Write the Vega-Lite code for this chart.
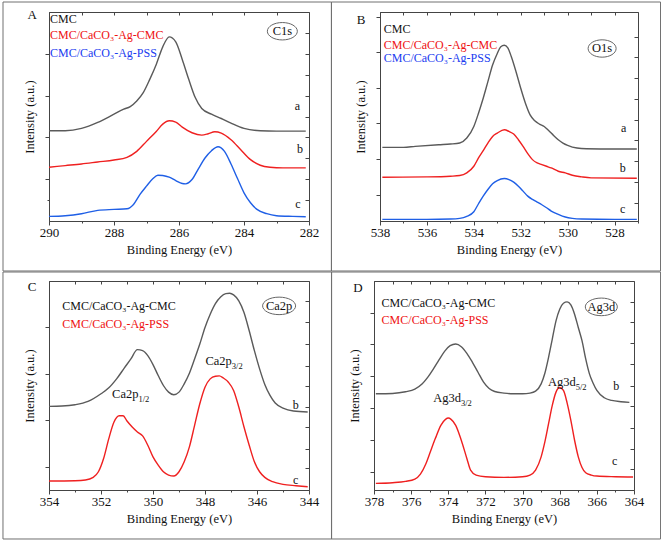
{
"$schema": "https://vega.github.io/schema/vega-lite/v6.json",
"background": "white",
"padding": {"left": 1, "top": 1, "right": 1, "bottom": 1},
"autosize": {"type": "pad"},
"bounds": "full",
"spacing": -1,
"config": {
 "font": "Liberation Serif",
 "view": {"stroke": "#444", "strokeWidth": 1},
 "axis": {"grid": false, "labelFont": "Liberation Serif", "titleFont": "Liberation Serif", "labelFontSize": 13, "titleFontSize": 12.5, "titleFontWeight": "normal", "labelColor": "#111", "titleColor": "#111", "domainColor": "#444", "tickColor": "#444", "minExtent": 0, "labelFlush": false, "labelOverlap": false},
 "text": {"font": "Liberation Serif", "fontSize": 12},
 "line": {"strokeWidth": 1.4, "interpolate": "monotone"}
},
"datasets": {
 "A": [
  {"s":"a","E":290,"I":272},{"s":"a","E":289.5,"I":272},{"s":"a","E":289,"I":279},{"s":"a","E":288.5,"I":297},{"s":"a","E":288,"I":322},{"s":"a","E":287.7,"I":337},{"s":"a","E":287.5,"I":345},{"s":"a","E":287.3,"I":362},{"s":"a","E":287.1,"I":387},{"s":"a","E":286.9,"I":427},{"s":"a","E":286.7,"I":472},{"s":"a","E":286.5,"I":525},{"s":"a","E":286.3,"I":555},{"s":"a","E":286.1,"I":540},{"s":"a","E":285.9,"I":487},{"s":"a","E":285.7,"I":427},{"s":"a","E":285.5,"I":372},{"s":"a","E":285.3,"I":339},{"s":"a","E":285,"I":322},{"s":"a","E":284.7,"I":309},{"s":"a","E":284.4,"I":295},{"s":"a","E":284,"I":279},{"s":"a","E":283.5,"I":272},{"s":"a","E":283,"I":271},{"s":"a","E":282.1,"I":271},
  {"s":"b","E":290,"I":162},{"s":"b","E":289.5,"I":167},{"s":"b","E":289,"I":172},{"s":"b","E":288.5,"I":178},{"s":"b","E":288,"I":184},{"s":"b","E":287.6,"I":192},{"s":"b","E":287.3,"I":210},{"s":"b","E":287,"I":240},{"s":"b","E":286.7,"I":270},{"s":"b","E":286.5,"I":292},{"s":"b","E":286.3,"I":302},{"s":"b","E":286.1,"I":298},{"s":"b","E":285.9,"I":283},{"s":"b","E":285.6,"I":266},{"s":"b","E":285.3,"I":259},{"s":"b","E":285.1,"I":263},{"s":"b","E":284.9,"I":269},{"s":"b","E":284.7,"I":265},{"s":"b","E":284.4,"I":245},{"s":"b","E":284.1,"I":215},{"s":"b","E":283.8,"I":185},{"s":"b","E":283.5,"I":168},{"s":"b","E":283.2,"I":162},{"s":"b","E":282.8,"I":160},{"s":"b","E":282.1,"I":160},
  {"s":"c","E":290,"I":14},{"s":"c","E":289.5,"I":16},{"s":"c","E":289,"I":22},{"s":"c","E":288.5,"I":32},{"s":"c","E":288,"I":35},{"s":"c","E":287.6,"I":37},{"s":"c","E":287.4,"I":50},{"s":"c","E":287.2,"I":80},{"s":"c","E":287,"I":105},{"s":"c","E":286.8,"I":128},{"s":"c","E":286.65,"I":138},{"s":"c","E":286.5,"I":137},{"s":"c","E":286.3,"I":132},{"s":"c","E":286.1,"I":122},{"s":"c","E":285.9,"I":113},{"s":"c","E":285.8,"I":112},{"s":"c","E":285.6,"I":125},{"s":"c","E":285.4,"I":158},{"s":"c","E":285.2,"I":190},{"s":"c","E":285,"I":212},{"s":"c","E":284.8,"I":224},{"s":"c","E":284.6,"I":210},{"s":"c","E":284.4,"I":172},{"s":"c","E":284.2,"I":128},{"s":"c","E":284,"I":85},{"s":"c","E":283.8,"I":55},{"s":"c","E":283.6,"I":35},{"s":"c","E":283.3,"I":22},{"s":"c","E":283,"I":16},{"s":"c","E":282.5,"I":14},{"s":"c","E":282.1,"I":13}
 ],
 "B": [
  {"s":"a","E":537.9,"I":222},{"s":"a","E":537,"I":222},{"s":"a","E":536.5,"I":225},{"s":"a","E":535.5,"I":230},{"s":"a","E":535,"I":232},{"s":"a","E":534.6,"I":235},{"s":"a","E":534.3,"I":250},{"s":"a","E":534,"I":285},{"s":"a","E":533.8,"I":325},{"s":"a","E":533.6,"I":370},{"s":"a","E":533.4,"I":420},{"s":"a","E":533.2,"I":470},{"s":"a","E":533,"I":505},{"s":"a","E":532.85,"I":525},{"s":"a","E":532.7,"I":530},{"s":"a","E":532.55,"I":522},{"s":"a","E":532.4,"I":495},{"s":"a","E":532.2,"I":450},{"s":"a","E":532,"I":400},{"s":"a","E":531.8,"I":355},{"s":"a","E":531.6,"I":320},{"s":"a","E":531.4,"I":302},{"s":"a","E":531.2,"I":292},{"s":"a","E":531,"I":285},{"s":"a","E":530.8,"I":272},{"s":"a","E":530.6,"I":258},{"s":"a","E":530.4,"I":245},{"s":"a","E":530.2,"I":235},{"s":"a","E":530,"I":228},{"s":"a","E":529.6,"I":220},{"s":"a","E":529.2,"I":218},{"s":"a","E":528,"I":217},{"s":"a","E":527.05,"I":217},
  {"s":"b","E":537.9,"I":132},{"s":"b","E":536,"I":133},{"s":"b","E":535,"I":135},{"s":"b","E":534.6,"I":137},{"s":"b","E":534.3,"I":145},{"s":"b","E":534,"I":165},{"s":"b","E":533.8,"I":190},{"s":"b","E":533.6,"I":212},{"s":"b","E":533.4,"I":235},{"s":"b","E":533.2,"I":255},{"s":"b","E":533,"I":265},{"s":"b","E":532.7,"I":275},{"s":"b","E":532.5,"I":270},{"s":"b","E":532.3,"I":262},{"s":"b","E":532.1,"I":245},{"s":"b","E":531.9,"I":225},{"s":"b","E":531.7,"I":203},{"s":"b","E":531.5,"I":185},{"s":"b","E":531.3,"I":175},{"s":"b","E":531.1,"I":170},{"s":"b","E":530.9,"I":165},{"s":"b","E":530.7,"I":160},{"s":"b","E":530.4,"I":150},{"s":"b","E":530.1,"I":145},{"s":"b","E":529.8,"I":138},{"s":"b","E":529.4,"I":133},{"s":"b","E":529,"I":130},{"s":"b","E":527.05,"I":129},
  {"s":"c","E":537.9,"I":5},{"s":"c","E":536,"I":5},{"s":"c","E":535,"I":6},{"s":"c","E":534.6,"I":8},{"s":"c","E":534.3,"I":14},{"s":"c","E":534,"I":28},{"s":"c","E":533.8,"I":52},{"s":"c","E":533.6,"I":75},{"s":"c","E":533.4,"I":95},{"s":"c","E":533.2,"I":112},{"s":"c","E":533,"I":122},{"s":"c","E":532.7,"I":128},{"s":"c","E":532.5,"I":125},{"s":"c","E":532.3,"I":117},{"s":"c","E":532.1,"I":105},{"s":"c","E":531.9,"I":90},{"s":"c","E":531.7,"I":75},{"s":"c","E":531.5,"I":65},{"s":"c","E":531.3,"I":57},{"s":"c","E":531.1,"I":49},{"s":"c","E":530.9,"I":40},{"s":"c","E":530.7,"I":30},{"s":"c","E":530.4,"I":20},{"s":"c","E":530.1,"I":12},{"s":"c","E":529.8,"I":8},{"s":"c","E":529.4,"I":6},{"s":"c","E":528,"I":5},{"s":"c","E":527.05,"I":5}
 ],
 "C": [
  {"s":"b","E":354,"I":252},{"s":"b","E":353.5,"I":253},{"s":"b","E":353,"I":257},{"s":"b","E":352.5,"I":267},{"s":"b","E":352,"I":290},{"s":"b","E":351.7,"I":308},{"s":"b","E":351.4,"I":335},{"s":"b","E":351.1,"I":368},{"s":"b","E":350.85,"I":395},{"s":"b","E":350.6,"I":423},{"s":"b","E":350.4,"I":420},{"s":"b","E":350.2,"I":405},{"s":"b","E":350,"I":378},{"s":"b","E":349.8,"I":345},{"s":"b","E":349.6,"I":315},{"s":"b","E":349.4,"I":295},{"s":"b","E":349.2,"I":287},{"s":"b","E":349,"I":295},{"s":"b","E":348.8,"I":320},{"s":"b","E":348.6,"I":352},{"s":"b","E":348.4,"I":395},{"s":"b","E":348.2,"I":440},{"s":"b","E":348,"I":490},{"s":"b","E":347.8,"I":530},{"s":"b","E":347.6,"I":562},{"s":"b","E":347.4,"I":582},{"s":"b","E":347.2,"I":592},{"s":"b","E":347.05,"I":593},{"s":"b","E":346.9,"I":588},{"s":"b","E":346.7,"I":570},{"s":"b","E":346.5,"I":535},{"s":"b","E":346.3,"I":480},{"s":"b","E":346.1,"I":420},{"s":"b","E":345.9,"I":365},{"s":"b","E":345.7,"I":318},{"s":"b","E":345.5,"I":285},{"s":"b","E":345.3,"I":262},{"s":"b","E":345,"I":247},{"s":"b","E":344.6,"I":238},{"s":"b","E":344.05,"I":235},
  {"s":"c","E":354,"I":27},{"s":"c","E":353,"I":28},{"s":"c","E":352.6,"I":30},{"s":"c","E":352.3,"I":38},{"s":"c","E":352.1,"I":55},{"s":"c","E":351.9,"I":95},{"s":"c","E":351.7,"I":155},{"s":"c","E":351.5,"I":205},{"s":"c","E":351.3,"I":224},{"s":"c","E":351.15,"I":224},{"s":"c","E":351,"I":208},{"s":"c","E":350.8,"I":190},{"s":"c","E":350.6,"I":175},{"s":"c","E":350.4,"I":163},{"s":"c","E":350.2,"I":135},{"s":"c","E":350,"I":100},{"s":"c","E":349.8,"I":75},{"s":"c","E":349.6,"I":55},{"s":"c","E":349.4,"I":45},{"s":"c","E":349.2,"I":42},{"s":"c","E":349,"I":55},{"s":"c","E":348.8,"I":85},{"s":"c","E":348.6,"I":130},{"s":"c","E":348.4,"I":195},{"s":"c","E":348.2,"I":260},{"s":"c","E":348,"I":310},{"s":"c","E":347.8,"I":335},{"s":"c","E":347.6,"I":343},{"s":"c","E":347.45,"I":344},{"s":"c","E":347.3,"I":338},{"s":"c","E":347.1,"I":325},{"s":"c","E":346.9,"I":300},{"s":"c","E":346.7,"I":250},{"s":"c","E":346.5,"I":190},{"s":"c","E":346.3,"I":135},{"s":"c","E":346.1,"I":85},{"s":"c","E":345.9,"I":55},{"s":"c","E":345.7,"I":38},{"s":"c","E":345.4,"I":25},{"s":"c","E":345,"I":17},{"s":"c","E":344.5,"I":13},{"s":"c","E":344.05,"I":10}
 ],
 "D": [
  {"s":"b","E":377.9,"I":290},{"s":"b","E":377,"I":291},{"s":"b","E":376.3,"I":296},{"s":"b","E":375.8,"I":304},{"s":"b","E":375.4,"I":320},{"s":"b","E":375.1,"I":340},{"s":"b","E":374.8,"I":365},{"s":"b","E":374.5,"I":392},{"s":"b","E":374.2,"I":418},{"s":"b","E":373.9,"I":435},{"s":"b","E":373.6,"I":440},{"s":"b","E":373.3,"I":432},{"s":"b","E":373,"I":412},{"s":"b","E":372.7,"I":385},{"s":"b","E":372.4,"I":355},{"s":"b","E":372.1,"I":325},{"s":"b","E":371.8,"I":306},{"s":"b","E":371.5,"I":297},{"s":"b","E":371,"I":292},{"s":"b","E":370.5,"I":290},{"s":"b","E":370,"I":290},{"s":"b","E":369.6,"I":292},{"s":"b","E":369.3,"I":298},{"s":"b","E":369,"I":320},{"s":"b","E":368.8,"I":352},{"s":"b","E":368.6,"I":400},{"s":"b","E":368.4,"I":455},{"s":"b","E":368.2,"I":510},{"s":"b","E":368,"I":545},{"s":"b","E":367.8,"I":563},{"s":"b","E":367.6,"I":567},{"s":"b","E":367.4,"I":558},{"s":"b","E":367.2,"I":530},{"s":"b","E":367,"I":490},{"s":"b","E":366.8,"I":450},{"s":"b","E":366.6,"I":395},{"s":"b","E":366.4,"I":350},{"s":"b","E":366.2,"I":322},{"s":"b","E":366,"I":300},{"s":"b","E":365.6,"I":278},{"s":"b","E":365.2,"I":270},{"s":"b","E":364.7,"I":266},{"s":"b","E":364.25,"I":264},
  {"s":"c","E":377.9,"I":20},{"s":"c","E":377,"I":22},{"s":"c","E":376.3,"I":26},{"s":"c","E":375.8,"I":33},{"s":"c","E":375.5,"I":48},{"s":"c","E":375.2,"I":80},{"s":"c","E":375,"I":110},{"s":"c","E":374.7,"I":155},{"s":"c","E":374.4,"I":195},{"s":"c","E":374.15,"I":213},{"s":"c","E":374,"I":217},{"s":"c","E":373.85,"I":213},{"s":"c","E":373.6,"I":195},{"s":"c","E":373.3,"I":150},{"s":"c","E":373,"I":95},{"s":"c","E":372.8,"I":60},{"s":"c","E":372.5,"I":45},{"s":"c","E":372,"I":40},{"s":"c","E":371,"I":38},{"s":"c","E":370,"I":40},{"s":"c","E":369.6,"I":45},{"s":"c","E":369.3,"I":60},{"s":"c","E":369,"I":100},{"s":"c","E":368.8,"I":145},{"s":"c","E":368.6,"I":200},{"s":"c","E":368.4,"I":255},{"s":"c","E":368.2,"I":295},{"s":"c","E":368,"I":309},{"s":"c","E":367.8,"I":300},{"s":"c","E":367.6,"I":262},{"s":"c","E":367.4,"I":210},{"s":"c","E":367.2,"I":150},{"s":"c","E":367,"I":100},{"s":"c","E":366.8,"I":68},{"s":"c","E":366.6,"I":52},{"s":"c","E":366.3,"I":45},{"s":"c","E":366,"I":42},{"s":"c","E":365,"I":40},{"s":"c","E":364.05,"I":39}
 ]
},
"vconcat": [
 {"hconcat": [
  {"width": 260, "height": 209,
   "resolve": {"axis": {"x": "independent", "y": "independent"}},
   "layer": [
    {"data": {"values": [{}]}, "mark": {"type": "rect", "fill": "#fff", "fillOpacity": 0, "stroke": "#707070", "strokeWidth": 1},
     "encoding": {"x": {"datum": 291.415, "type": "quantitative", "scale": {"domain": [282, 290], "reverse": true, "nice": false, "zero": false}, "axis": {"orient": "top", "values": [282,283,284,285,286,287,288,289,290], "labels": false, "domain": false, "tickSize": -3, "title": null}}, "x2": {"datum": 281.31},
      "y": {"datum": 660.1, "type": "quantitative", "scale": {"domain": [0, 630], "nice": false, "zero": false}, "axis": {"orient": "right", "values": [63,126,189,252,315,378,441,504,567], "labels": false, "domain": false, "tickSize": -4, "title": null}}, "y2": {"datum": -150.7}}},
    {"data": {"name": "A"}, "mark": {"type": "line"},
     "encoding": {"x": {"field": "E", "type": "quantitative", "scale": {"domain": [282, 290], "reverse": true, "nice": false, "zero": false}, "axis": {"orient": "bottom", "values": [282,283,284,285,286,287,288,289,290], "labelExpr": "datum.value % 2 === 0 ? datum.label : ''", "tickSize": {"condition": {"test": "datum.value % 2 === 0", "value": 4}, "value": 2}, "labelPadding": 1, "title": "Binding Energy (eV)", "titlePadding": 4}},
      "y": {"field": "I", "type": "quantitative", "scale": {"domain": [0, 630], "nice": false, "zero": false}, "axis": {"orient": "left", "values": [63,126,252,378,504], "labels": false, "tickSize": {"condition": {"test": "datum.value % 126 === 0", "value": 4}, "value": 2}, "title": "Intensity (a.u.)", "titlePadding": 8}},
      "detail": {"field": "s"},
      "color": {"condition": [{"test": "datum.s === 'a'", "value": "#5a5a5a"}, {"test": "datum.s === 'b'", "value": "#ef2020"}], "value": "#1f5fe6"}}},
    {"data": {"values": [{}]}, "mark": {"type": "text", "text": "A", "fontSize": 13, "align": "center", "baseline": "middle", "color": "#111"},
     "encoding": {"x": {"datum": 290.52, "type": "quantitative", "scale": {"domain": [282, 290], "reverse": true, "nice": false, "zero": false}, "axis": null}, "y": {"datum": 621, "type": "quantitative", "scale": {"domain": [0, 630], "nice": false, "zero": false}, "axis": null}}},
    {"data": {"values": [{}]}, "mark": {"type": "text", "text": "CMC", "align": "left", "baseline": "middle", "color": "#111"},
     "encoding": {"x": {"datum": 289.97, "type": "quantitative", "scale": {"domain": [282, 290], "reverse": true, "nice": false, "zero": false}, "axis": null}, "y": {"datum": 610, "type": "quantitative", "scale": {"domain": [0, 630], "nice": false, "zero": false}, "axis": null}}},
    {"data": {"values": [{}]}, "mark": {"type": "text", "text": "CMC/CaCO₃-Ag-CMC", "align": "left", "baseline": "middle", "color": "#ee1111"},
     "encoding": {"x": {"datum": 289.97, "type": "quantitative", "scale": {"domain": [282, 290], "reverse": true, "nice": false, "zero": false}, "axis": null}, "y": {"datum": 560, "type": "quantitative", "scale": {"domain": [0, 630], "nice": false, "zero": false}, "axis": null}}},
    {"data": {"values": [{}]}, "mark": {"type": "text", "text": "CMC/CaCO₃-Ag-PSS", "align": "left", "baseline": "middle", "color": "#1a3cf0"},
     "encoding": {"x": {"datum": 289.97, "type": "quantitative", "scale": {"domain": [282, 290], "reverse": true, "nice": false, "zero": false}, "axis": null}, "y": {"datum": 505, "type": "quantitative", "scale": {"domain": [0, 630], "nice": false, "zero": false}, "axis": null}}},
    {"data": {"values": [{}]}, "mark": {"type": "point", "shape": "M-1,0A1,0.58 0 1,1 1,0A1,0.58 0 1,1 -1,0Z", "size": 900, "filled": false, "stroke": "#666", "strokeWidth": 1, "opacity": 1},
     "encoding": {"x": {"datum": 282.82, "type": "quantitative", "scale": {"domain": [282, 290], "reverse": true, "nice": false, "zero": false}, "axis": null}, "y": {"datum": 572, "type": "quantitative", "scale": {"domain": [0, 630], "nice": false, "zero": false}, "axis": null}}},
    {"data": {"values": [{}]}, "mark": {"type": "text", "text": "C1s", "fontSize": 12.5, "align": "center", "baseline": "middle", "color": "#111"},
     "encoding": {"x": {"datum": 282.82, "type": "quantitative", "scale": {"domain": [282, 290], "reverse": true, "nice": false, "zero": false}, "axis": null}, "y": {"datum": 572, "type": "quantitative", "scale": {"domain": [0, 630], "nice": false, "zero": false}, "axis": null}}},
    {"data": {"values": [{}]}, "mark": {"type": "text", "text": "a", "align": "center", "baseline": "middle", "color": "#111"},
     "encoding": {"x": {"datum": 282.36, "type": "quantitative", "scale": {"domain": [282, 290], "reverse": true, "nice": false, "zero": false}, "axis": null}, "y": {"datum": 347, "type": "quantitative", "scale": {"domain": [0, 630], "nice": false, "zero": false}, "axis": null}}},
    {"data": {"values": [{}]}, "mark": {"type": "text", "text": "b", "align": "center", "baseline": "middle", "color": "#111"},
     "encoding": {"x": {"datum": 282.28, "type": "quantitative", "scale": {"domain": [282, 290], "reverse": true, "nice": false, "zero": false}, "axis": null}, "y": {"datum": 217, "type": "quantitative", "scale": {"domain": [0, 630], "nice": false, "zero": false}, "axis": null}}},
    {"data": {"values": [{}]}, "mark": {"type": "text", "text": "c", "align": "center", "baseline": "middle", "color": "#111"},
     "encoding": {"x": {"datum": 282.34, "type": "quantitative", "scale": {"domain": [282, 290], "reverse": true, "nice": false, "zero": false}, "axis": null}, "y": {"datum": 50, "type": "quantitative", "scale": {"domain": [0, 630], "nice": false, "zero": false}, "axis": null}}}
   ]},
  {"width": 258, "height": 209,
   "resolve": {"axis": {"x": "independent", "y": "independent"}},
   "layer": [
    {"data": {"values": [{}]}, "mark": {"type": "rect", "fill": "#fff", "fillOpacity": 0, "stroke": "#707070", "strokeWidth": 1},
     "encoding": {"x": {"datum": 540.07, "type": "quantitative", "scale": {"domain": [527, 538], "reverse": true, "nice": false, "zero": false}, "axis": {"orient": "top", "values": [527,528,529,530,531,532,533,534,535,536,537,538], "labels": false, "domain": false, "tickSize": -3, "title": null}}, "x2": {"datum": 526.04},
      "y": {"datum": 660.1, "type": "quantitative", "scale": {"domain": [0, 630], "nice": false, "zero": false}, "axis": {"orient": "right", "values": [55,118,180,243,305,368,430,495,555], "labels": false, "domain": false, "tickSize": -4, "title": null}}, "y2": {"datum": -150.7}}},
    {"data": {"name": "B"}, "mark": {"type": "line"},
     "encoding": {"x": {"field": "E", "type": "quantitative", "scale": {"domain": [527, 538], "reverse": true, "nice": false, "zero": false}, "axis": {"orient": "bottom", "values": [527,528,529,530,531,532,533,534,535,536,537,538], "labelExpr": "datum.value % 2 === 0 ? datum.label : ''", "tickSize": {"condition": {"test": "datum.value % 2 === 0", "value": 4}, "value": 2}, "labelPadding": 1, "title": "Binding Energy (eV)", "titlePadding": 4}},
      "y": {"field": "I", "type": "quantitative", "scale": {"domain": [0, 630], "nice": false, "zero": false}, "axis": {"orient": "left", "values": [78,188,295,402,510,615], "labels": false, "tickSize": 4, "title": "Intensity (a.u.)", "titlePadding": 8}},
      "detail": {"field": "s"},
      "color": {"condition": [{"test": "datum.s === 'a'", "value": "#5a5a5a"}, {"test": "datum.s === 'b'", "value": "#ef2020"}], "value": "#1f5fe6"}}},
    {"data": {"values": [{}]}, "mark": {"type": "text", "text": "B", "fontSize": 13, "align": "center", "baseline": "middle", "color": "#111"},
     "encoding": {"x": {"datum": 538.81, "type": "quantitative", "scale": {"domain": [527, 538], "reverse": true, "nice": false, "zero": false}, "axis": null}, "y": {"datum": 607, "type": "quantitative", "scale": {"domain": [0, 630], "nice": false, "zero": false}, "axis": null}}},
    {"data": {"values": [{}]}, "mark": {"type": "text", "text": "CMC", "align": "left", "baseline": "middle", "color": "#111"},
     "encoding": {"x": {"datum": 537.84, "type": "quantitative", "scale": {"domain": [527, 538], "reverse": true, "nice": false, "zero": false}, "axis": null}, "y": {"datum": 580, "type": "quantitative", "scale": {"domain": [0, 630], "nice": false, "zero": false}, "axis": null}}},
    {"data": {"values": [{}]}, "mark": {"type": "text", "text": "CMC/CaCO₃-Ag-CMC", "align": "left", "baseline": "middle", "color": "#ee1111"},
     "encoding": {"x": {"datum": 537.84, "type": "quantitative", "scale": {"domain": [527, 538], "reverse": true, "nice": false, "zero": false}, "axis": null}, "y": {"datum": 532, "type": "quantitative", "scale": {"domain": [0, 630], "nice": false, "zero": false}, "axis": null}}},
    {"data": {"values": [{}]}, "mark": {"type": "text", "text": "CMC/CaCO₃-Ag-PSS", "align": "left", "baseline": "middle", "color": "#1a3cf0"},
     "encoding": {"x": {"datum": 537.84, "type": "quantitative", "scale": {"domain": [527, 538], "reverse": true, "nice": false, "zero": false}, "axis": null}, "y": {"datum": 490, "type": "quantitative", "scale": {"domain": [0, 630], "nice": false, "zero": false}, "axis": null}}},
    {"data": {"values": [{}]}, "mark": {"type": "point", "shape": "M-1,0A1,0.62 0 1,1 1,0A1,0.62 0 1,1 -1,0Z", "size": 784, "filled": false, "stroke": "#666", "strokeWidth": 1, "opacity": 1},
     "encoding": {"x": {"datum": 528.53, "type": "quantitative", "scale": {"domain": [527, 538], "reverse": true, "nice": false, "zero": false}, "axis": null}, "y": {"datum": 520, "type": "quantitative", "scale": {"domain": [0, 630], "nice": false, "zero": false}, "axis": null}}},
    {"data": {"values": [{}]}, "mark": {"type": "text", "text": "O1s", "fontSize": 12.5, "align": "center", "baseline": "middle", "color": "#111"},
     "encoding": {"x": {"datum": 528.53, "type": "quantitative", "scale": {"domain": [527, 538], "reverse": true, "nice": false, "zero": false}, "axis": null}, "y": {"datum": 520, "type": "quantitative", "scale": {"domain": [0, 630], "nice": false, "zero": false}, "axis": null}}},
    {"data": {"values": [{}]}, "mark": {"type": "text", "text": "a", "align": "center", "baseline": "middle", "color": "#111"},
     "encoding": {"x": {"datum": 527.61, "type": "quantitative", "scale": {"domain": [527, 538], "reverse": true, "nice": false, "zero": false}, "axis": null}, "y": {"datum": 280, "type": "quantitative", "scale": {"domain": [0, 630], "nice": false, "zero": false}, "axis": null}}},
    {"data": {"values": [{}]}, "mark": {"type": "text", "text": "b", "align": "center", "baseline": "middle", "color": "#111"},
     "encoding": {"x": {"datum": 527.65, "type": "quantitative", "scale": {"domain": [527, 538], "reverse": true, "nice": false, "zero": false}, "axis": null}, "y": {"datum": 160, "type": "quantitative", "scale": {"domain": [0, 630], "nice": false, "zero": false}, "axis": null}}},
    {"data": {"values": [{}]}, "mark": {"type": "text", "text": "c", "align": "center", "baseline": "middle", "color": "#111"},
     "encoding": {"x": {"datum": 527.65, "type": "quantitative", "scale": {"domain": [527, 538], "reverse": true, "nice": false, "zero": false}, "axis": null}, "y": {"datum": 35, "type": "quantitative", "scale": {"domain": [0, 630], "nice": false, "zero": false}, "axis": null}}}
   ]}
 ], "spacing": 71, "bounds": "flush"},
 {"hconcat": [
  {"width": 260, "height": 209,
   "resolve": {"axis": {"x": "independent", "y": "independent"}},
   "layer": [
    {"data": {"values": [{}]}, "mark": {"type": "rect", "fill": "#fff", "fillOpacity": 0, "stroke": "#707070", "strokeWidth": 1},
     "encoding": {"x": {"datum": 355.77, "type": "quantitative", "scale": {"domain": [344, 354], "reverse": true, "nice": false, "zero": false}, "axis": {"orient": "top", "values": [344,345,346,347,348,349,350,351,352,353,354], "labels": false, "domain": false, "tickSize": -3, "title": null}}, "x2": {"datum": 343.13},
      "y": {"datum": 657.1, "type": "quantitative", "scale": {"domain": [0, 630], "nice": false, "zero": false}, "axis": {"orient": "right", "values": [65,125,190,250,315,375,440,505,570], "labels": false, "domain": false, "tickSize": -4, "title": null}}, "y2": {"datum": -147.7}}},
    {"data": {"name": "C"}, "mark": {"type": "line"},
     "encoding": {"x": {"field": "E", "type": "quantitative", "scale": {"domain": [344, 354], "reverse": true, "nice": false, "zero": false}, "axis": {"orient": "bottom", "values": [344,345,346,347,348,349,350,351,352,353,354], "labelExpr": "datum.value % 2 === 0 ? datum.label : ''", "tickSize": {"condition": {"test": "datum.value % 2 === 0", "value": 4}, "value": 2}, "labelPadding": 1, "title": "Binding Energy (eV)", "titlePadding": 4}},
      "y": {"field": "I", "type": "quantitative", "scale": {"domain": [0, 630], "nice": false, "zero": false}, "axis": {"orient": "left", "values": [70,210,350,490], "labels": false, "tickSize": 4, "title": "Intensity (a.u.)", "titlePadding": 8}},
      "detail": {"field": "s"},
      "color": {"condition": [{"test": "datum.s === 'b'", "value": "#5a5a5a"}], "value": "#ef2020"}}},
    {"data": {"values": [{}]}, "mark": {"type": "text", "text": "C", "fontSize": 13, "align": "center", "baseline": "middle", "color": "#111"},
     "encoding": {"x": {"datum": 354.65, "type": "quantitative", "scale": {"domain": [344, 354], "reverse": true, "nice": false, "zero": false}, "axis": null}, "y": {"datum": 613, "type": "quantitative", "scale": {"domain": [0, 630], "nice": false, "zero": false}, "axis": null}}},
    {"data": {"values": [{}]}, "mark": {"type": "text", "text": "CMC/CaCO₃-Ag-CMC", "align": "left", "baseline": "middle", "color": "#111"},
     "encoding": {"x": {"datum": 353.49, "type": "quantitative", "scale": {"domain": [344, 354], "reverse": true, "nice": false, "zero": false}, "axis": null}, "y": {"datum": 555, "type": "quantitative", "scale": {"domain": [0, 630], "nice": false, "zero": false}, "axis": null}}},
    {"data": {"values": [{}]}, "mark": {"type": "text", "text": "CMC/CaCO₃-Ag-PSS", "align": "left", "baseline": "middle", "color": "#ee1111"},
     "encoding": {"x": {"datum": 353.49, "type": "quantitative", "scale": {"domain": [344, 354], "reverse": true, "nice": false, "zero": false}, "axis": null}, "y": {"datum": 500, "type": "quantitative", "scale": {"domain": [0, 630], "nice": false, "zero": false}, "axis": null}}},
    {"data": {"values": [{}]}, "mark": {"type": "point", "shape": "M-1,0A1,0.53 0 1,1 1,0A1,0.53 0 1,1 -1,0Z", "size": 1089, "filled": false, "stroke": "#666", "strokeWidth": 1, "opacity": 1},
     "encoding": {"x": {"datum": 345.15, "type": "quantitative", "scale": {"domain": [344, 354], "reverse": true, "nice": false, "zero": false}, "axis": null}, "y": {"datum": 555, "type": "quantitative", "scale": {"domain": [0, 630], "nice": false, "zero": false}, "axis": null}}},
    {"data": {"values": [{}]}, "mark": {"type": "text", "text": "Ca2p", "fontSize": 12.5, "align": "center", "baseline": "middle", "color": "#111"},
     "encoding": {"x": {"datum": 345.15, "type": "quantitative", "scale": {"domain": [344, 354], "reverse": true, "nice": false, "zero": false}, "axis": null}, "y": {"datum": 555, "type": "quantitative", "scale": {"domain": [0, 630], "nice": false, "zero": false}, "axis": null}}},
    {"data": {"values": [{}]}, "mark": {"type": "text", "text": "Ca2p", "fontSize": 12.5, "align": "right", "baseline": "middle", "color": "#111"},
     "encoding": {"x": {"datum": 346.97, "type": "quantitative", "scale": {"domain": [344, 354], "reverse": true, "nice": false, "zero": false}, "axis": null}, "y": {"datum": 390, "type": "quantitative", "scale": {"domain": [0, 630], "nice": false, "zero": false}, "axis": null}}},
    {"data": {"values": [{}]}, "mark": {"type": "text", "text": "3/2", "fontSize": 8.5, "dy": 5, "align": "left", "baseline": "middle", "color": "#111"},
     "encoding": {"x": {"datum": 346.97, "type": "quantitative", "scale": {"domain": [344, 354], "reverse": true, "nice": false, "zero": false}, "axis": null}, "y": {"datum": 390, "type": "quantitative", "scale": {"domain": [0, 630], "nice": false, "zero": false}, "axis": null}}},
    {"data": {"values": [{}]}, "mark": {"type": "text", "text": "Ca2p", "fontSize": 12.5, "align": "right", "baseline": "middle", "color": "#111"},
     "encoding": {"x": {"datum": 350.56, "type": "quantitative", "scale": {"domain": [344, 354], "reverse": true, "nice": false, "zero": false}, "axis": null}, "y": {"datum": 290, "type": "quantitative", "scale": {"domain": [0, 630], "nice": false, "zero": false}, "axis": null}}},
    {"data": {"values": [{}]}, "mark": {"type": "text", "text": "1/2", "fontSize": 8.5, "dy": 5, "align": "left", "baseline": "middle", "color": "#111"},
     "encoding": {"x": {"datum": 350.56, "type": "quantitative", "scale": {"domain": [344, 354], "reverse": true, "nice": false, "zero": false}, "axis": null}, "y": {"datum": 290, "type": "quantitative", "scale": {"domain": [0, 630], "nice": false, "zero": false}, "axis": null}}},
    {"data": {"values": [{}]}, "mark": {"type": "text", "text": "b", "align": "center", "baseline": "middle", "color": "#111"},
     "encoding": {"x": {"datum": 344.51, "type": "quantitative", "scale": {"domain": [344, 354], "reverse": true, "nice": false, "zero": false}, "axis": null}, "y": {"datum": 255, "type": "quantitative", "scale": {"domain": [0, 630], "nice": false, "zero": false}, "axis": null}}},
    {"data": {"values": [{}]}, "mark": {"type": "text", "text": "c", "align": "center", "baseline": "middle", "color": "#111"},
     "encoding": {"x": {"datum": 344.51, "type": "quantitative", "scale": {"domain": [344, 354], "reverse": true, "nice": false, "zero": false}, "axis": null}, "y": {"datum": 30, "type": "quantitative", "scale": {"domain": [0, 630], "nice": false, "zero": false}, "axis": null}}}
   ]},
  {"width": 260, "height": 209,
   "resolve": {"axis": {"x": "independent", "y": "independent"}},
   "layer": [
    {"data": {"values": [{}]}, "mark": {"type": "rect", "fill": "#fff", "fillOpacity": 0, "stroke": "#707070", "strokeWidth": 1},
     "encoding": {"x": {"datum": 380.29, "type": "quantitative", "scale": {"domain": [364, 378], "reverse": true, "nice": false, "zero": false}, "axis": {"orient": "top", "values": [364,365,366,367,368,369,370,371,372,373,374,375,376,377,378], "labels": false, "domain": false, "tickSize": -3, "title": null}}, "x2": {"datum": 362.57},
      "y": {"datum": 657.1, "type": "quantitative", "scale": {"domain": [0, 630], "nice": false, "zero": false}, "axis": {"orient": "right", "values": [62,125,188,252,315,379,442,505,568], "labels": false, "domain": false, "tickSize": -4, "title": null}}, "y2": {"datum": -147.7}}},
    {"data": {"name": "D"}, "mark": {"type": "line"},
     "encoding": {"x": {"field": "E", "type": "quantitative", "scale": {"domain": [364, 378], "reverse": true, "nice": false, "zero": false}, "axis": {"orient": "bottom", "values": [364,365,366,367,368,369,370,371,372,373,374,375,376,377,378], "labelExpr": "datum.value % 2 === 0 ? datum.label : ''", "tickSize": {"condition": {"test": "datum.value % 2 === 0", "value": 4}, "value": 2}, "labelPadding": 1, "title": "Binding Energy (eV)", "titlePadding": 4}},
      "y": {"field": "I", "type": "quantitative", "scale": {"domain": [0, 630], "nice": false, "zero": false}, "axis": {"orient": "left", "values": [55,152,247,344,439,534], "labels": false, "tickSize": 4, "title": "Intensity (a.u.)", "titlePadding": 8}},
      "detail": {"field": "s"},
      "color": {"condition": [{"test": "datum.s === 'b'", "value": "#5a5a5a"}], "value": "#ef2020"}}},
    {"data": {"values": [{}]}, "mark": {"type": "text", "text": "D", "fontSize": 13, "align": "center", "baseline": "middle", "color": "#111"},
     "encoding": {"x": {"datum": 378.86, "type": "quantitative", "scale": {"domain": [364, 378], "reverse": true, "nice": false, "zero": false}, "axis": null}, "y": {"datum": 610, "type": "quantitative", "scale": {"domain": [0, 630], "nice": false, "zero": false}, "axis": null}}},
    {"data": {"values": [{}]}, "mark": {"type": "text", "text": "CMC/CaCO₃-Ag-CMC", "align": "left", "baseline": "middle", "color": "#111"},
     "encoding": {"x": {"datum": 377.59, "type": "quantitative", "scale": {"domain": [364, 378], "reverse": true, "nice": false, "zero": false}, "axis": null}, "y": {"datum": 565, "type": "quantitative", "scale": {"domain": [0, 630], "nice": false, "zero": false}, "axis": null}}},
    {"data": {"values": [{}]}, "mark": {"type": "text", "text": "CMC/CaCO₃-Ag-PSS", "align": "left", "baseline": "middle", "color": "#ee1111"},
     "encoding": {"x": {"datum": 377.59, "type": "quantitative", "scale": {"domain": [364, 378], "reverse": true, "nice": false, "zero": false}, "axis": null}, "y": {"datum": 512, "type": "quantitative", "scale": {"domain": [0, 630], "nice": false, "zero": false}, "axis": null}}},
    {"data": {"values": [{}]}, "mark": {"type": "point", "shape": "M-1,0A1,0.55 0 1,1 1,0A1,0.55 0 1,1 -1,0Z", "size": 1024, "filled": false, "stroke": "#666", "strokeWidth": 1, "opacity": 1},
     "encoding": {"x": {"datum": 365.76, "type": "quantitative", "scale": {"domain": [364, 378], "reverse": true, "nice": false, "zero": false}, "axis": null}, "y": {"datum": 552, "type": "quantitative", "scale": {"domain": [0, 630], "nice": false, "zero": false}, "axis": null}}},
    {"data": {"values": [{}]}, "mark": {"type": "text", "text": "Ag3d", "fontSize": 12.5, "align": "center", "baseline": "middle", "color": "#111"},
     "encoding": {"x": {"datum": 365.76, "type": "quantitative", "scale": {"domain": [364, 378], "reverse": true, "nice": false, "zero": false}, "axis": null}, "y": {"datum": 552, "type": "quantitative", "scale": {"domain": [0, 630], "nice": false, "zero": false}, "axis": null}}},
    {"data": {"values": [{}]}, "mark": {"type": "text", "text": "Ag3d", "fontSize": 12.5, "align": "right", "baseline": "middle", "color": "#111"},
     "encoding": {"x": {"datum": 367.14, "type": "quantitative", "scale": {"domain": [364, 378], "reverse": true, "nice": false, "zero": false}, "axis": null}, "y": {"datum": 327, "type": "quantitative", "scale": {"domain": [0, 630], "nice": false, "zero": false}, "axis": null}}},
    {"data": {"values": [{}]}, "mark": {"type": "text", "text": "5/2", "fontSize": 8.5, "dy": 5, "align": "left", "baseline": "middle", "color": "#111"},
     "encoding": {"x": {"datum": 367.14, "type": "quantitative", "scale": {"domain": [364, 378], "reverse": true, "nice": false, "zero": false}, "axis": null}, "y": {"datum": 327, "type": "quantitative", "scale": {"domain": [0, 630], "nice": false, "zero": false}, "axis": null}}},
    {"data": {"values": [{}]}, "mark": {"type": "text", "text": "Ag3d", "fontSize": 12.5, "align": "right", "baseline": "middle", "color": "#111"},
     "encoding": {"x": {"datum": 373.32, "type": "quantitative", "scale": {"domain": [364, 378], "reverse": true, "nice": false, "zero": false}, "axis": null}, "y": {"datum": 277, "type": "quantitative", "scale": {"domain": [0, 630], "nice": false, "zero": false}, "axis": null}}},
    {"data": {"values": [{}]}, "mark": {"type": "text", "text": "3/2", "fontSize": 8.5, "dy": 5, "align": "left", "baseline": "middle", "color": "#111"},
     "encoding": {"x": {"datum": 373.32, "type": "quantitative", "scale": {"domain": [364, 378], "reverse": true, "nice": false, "zero": false}, "axis": null}, "y": {"datum": 277, "type": "quantitative", "scale": {"domain": [0, 630], "nice": false, "zero": false}, "axis": null}}},
    {"data": {"values": [{}]}, "mark": {"type": "text", "text": "b", "align": "center", "baseline": "middle", "color": "#111"},
     "encoding": {"x": {"datum": 364.95, "type": "quantitative", "scale": {"domain": [364, 378], "reverse": true, "nice": false, "zero": false}, "axis": null}, "y": {"datum": 312, "type": "quantitative", "scale": {"domain": [0, 630], "nice": false, "zero": false}, "axis": null}}},
    {"data": {"values": [{}]}, "mark": {"type": "text", "text": "c", "align": "center", "baseline": "middle", "color": "#111"},
     "encoding": {"x": {"datum": 365.04, "type": "quantitative", "scale": {"domain": [364, 378], "reverse": true, "nice": false, "zero": false}, "axis": null}, "y": {"datum": 87, "type": "quantitative", "scale": {"domain": [0, 630], "nice": false, "zero": false}, "axis": null}}}
   ]}
 ], "spacing": 65, "bounds": "flush"}
]
}
